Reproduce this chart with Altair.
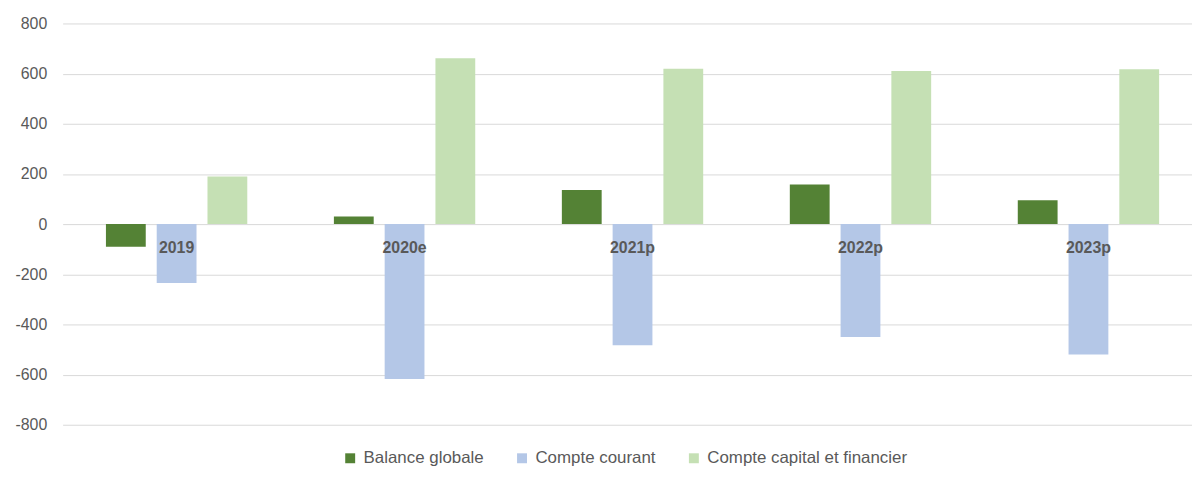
import altair as alt
import pandas as pd

categories = ["2019", "2020e", "2021p", "2022p", "2023p"]
series = ["Balance globale", "Compte courant", "Compte capital et financier"]
balance_globale = [-90, 30, 136, 158, 95]
compte_courant = [-235, -618, -483, -450, -520]
compte_capital = [190, 661, 619, 610, 617]
colors = ["#548235", "#B4C7E7", "#C5E0B4"]

rows = []
for i, c in enumerate(categories):
    for s, vals in zip(series, [balance_globale, compte_courant, compte_capital]):
        rows.append({"cat": c, "serie": s, "val": vals[i]})
df = pd.DataFrame(rows)
lab = pd.DataFrame({"cat": categories, "zero": [0] * len(categories)})

FONT = "Liberation Sans"
GREY = "#595959"

xscale = alt.Scale(paddingInner=0, paddingOuter=0, range=[0, 1147.5])

bars = alt.Chart(df).mark_bar().encode(
    x=alt.X("cat:N", sort=categories, axis=None, scale=xscale),
    xOffset=alt.XOffset("serie:N", sort=series,
                        scale=alt.Scale(paddingInner=0.216, paddingOuter=0.853)),
    y=alt.Y("val:Q", scale=alt.Scale(domain=[-800, 800], nice=False),
            axis=alt.Axis(values=list(range(-800, 801, 200)), title=None,
                          domain=False, ticks=False, gridColor="#D9D9D9",
                          gridWidth=1, labelColor=GREY, labelFont=FONT,
                          labelFontSize=16, labelPadding=16,
                          labelExpr="'' + datum.value")),
    color=alt.Color("serie:N", sort=series,
                    scale=alt.Scale(domain=series, range=colors),
                    legend=alt.Legend(title=None, orient="none", direction="horizontal",
                                      legendX=281, legendY=429, symbolType="square",
                                      symbolSize=100, symbolStrokeWidth=0,
                                      labelFont=FONT, labelFontSize=17,
                                      labelColor=GREY, columnPadding=30,
                                      labelOffset=5, labelLimit=0)),
)

labels = alt.Chart(lab).mark_text(
    font=FONT, fontSize=16, fontWeight="bold", color=GREY, dy=24
).encode(
    x=alt.X("cat:N", sort=categories, axis=None, scale=xscale),
    y=alt.Y("zero:Q"),
    text="cat:N",
)

chart = alt.layer(bars, labels).properties(
    width=1137, height=404,
    autosize=alt.AutoSizeParams(type="none"),
    padding={"left": 55, "top": 14, "right": 0, "bottom": 45},
).configure_view(stroke=None)

chart.save("out.html", embed_options={"renderer": "svg", "actions": False})
